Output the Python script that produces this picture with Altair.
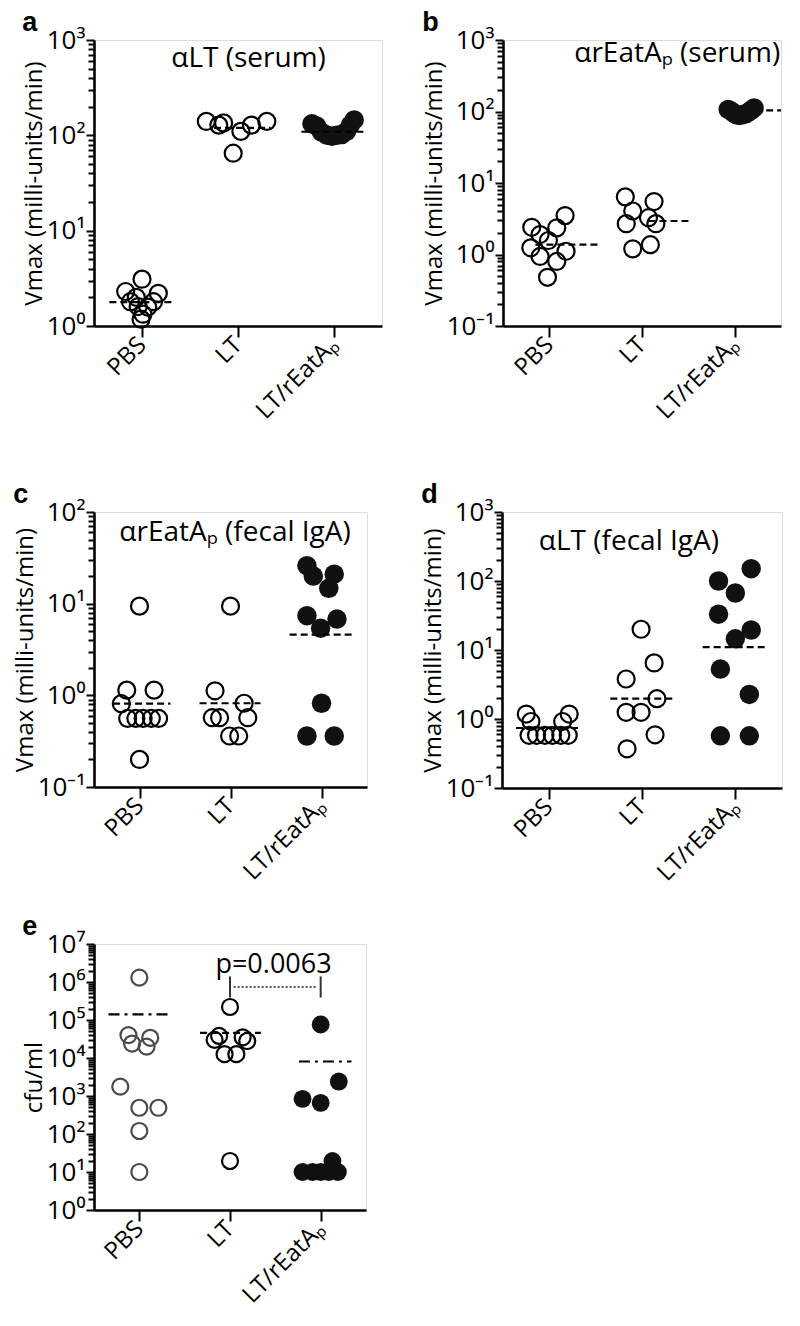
import json
import math
import altair as alt
import pandas as pd

FONT = "Open Sans"
CATS = ["PBS", "LT", "LT/rEatAₚ"]
YLAB = "Vmax (milli-units/min)"

# ---------- panel a : alpha LT (serum) ----------
A_PBS = [3.1, 2.3, 2.2, 1.8, 1.8, 1.6, 1.58, 1.33, 1.18, 2.0]
A_PBS_DX = [0.0, -0.17, 0.17, -0.12, 0.12, -0.04, 0.06, 0.01, -0.01, -0.06]
A_LT = [140, 128, 135, 110, 128, 140, 65]
A_LT_DX = [-0.33, -0.2, -0.15, 0.03, 0.14, 0.3, -0.05]
A_LTR = [132, 125, 108, 100, 98, 100, 102, 110, 128, 145]
A_LTR_DX = [-0.23, -0.18, -0.13, -0.07, -0.02, 0.03, 0.08, 0.13, 0.17, 0.21]
A_LINE = [1.78, 120, 109]
A_LINE_LO = [-0.34, -0.25, -0.34]
A_LINE_HI = [0.34, 0.34, 0.34]

# ---------- panel b : alpha rEatAp (serum) ----------
B_PBS = [3.5, 2.4, 2.36, 1.9, 1.57, 1.24, 1.11, 0.94, 0.80, 0.48]
B_PBS_DX = [0.17, -0.19, 0.08, -0.1, -0.01, -0.2, 0.18, -0.1, 0.08, -0.02]
B_LT = [6.4, 5.5, 4.06, 2.7, 3.27, 2.7, 1.2, 1.37]
B_LT_DX = [-0.18, 0.13, -0.1, -0.17, 0.07, 0.15, -0.1, 0.09]
B_LTR = [107, 102, 95, 90, 88, 90, 93, 98, 105, 112]
B_LTR_DX = [-0.07, -0.04, -0.01, 0.02, 0.05, 0.08, 0.12, 0.15, 0.18, 0.21]
B_LINE = [1.37, 2.94, 104]
B_LINE_LO = [-0.15, 0.07, 0.34]
B_LINE_HI = [0.52, 0.52, 0.5]

# ---------- panel c : alpha rEatAp (fecal IgA) ----------
C_PBS = [9.4, 1.14, 1.14, 0.81, 0.56, 0.56, 0.56, 0.56, 0.56, 0.20]
C_PBS_DX = [0.0, -0.14, 0.16, -0.2, -0.13, -0.04, 0.04, 0.13, 0.21, 0.0]
C_LT = [9.4, 1.12, 0.82, 0.57, 0.57, 0.57, 0.36, 0.36]
C_LT_DX = [0.0, -0.17, 0.15, -0.2, -0.12, 0.19, -0.01, 0.09]
C_LTR = [26, 20, 21, 14.7, 7.4, 6.8, 5.4, 0.82, 0.36, 0.36]
C_LTR_DX = [-0.16, -0.09, 0.14, 0.08, -0.16, 0.17, -0.01, 0.0, -0.16, 0.14]
C_LINE = [0.81, 0.82, 4.6]
C_LINE_LO = [-0.29, -0.34, -0.35]
C_LINE_HI = [0.34, 0.33, 0.34]

# ---------- panel d : alpha LT (fecal IgA) ----------
D_PBS = [1.18, 1.18, 0.92, 0.92, 0.58, 0.58, 0.58, 0.58, 0.58, 0.58]
D_PBS_DX = [-0.24, 0.22, -0.19, 0.15, -0.21, -0.13, -0.04, 0.04, 0.13, 0.21]
D_LT = [20, 6.5, 3.8, 1.97, 1.25, 1.25, 0.59, 0.37]
D_LT_DX = [-0.01, 0.13, -0.17, 0.16, -0.17, -0.01, 0.14, -0.16]
D_LTR = [151, 100, 67, 33, 19.5, 14.5, 5.3, 2.27, 0.57, 0.57]
D_LTR_DX = [0.17, -0.18, 0.0, -0.18, 0.17, 0.0, -0.16, 0.15, -0.16, 0.15]
D_LINE = [0.74, 1.97, 11]
D_LINE_LO = [-0.35, -0.34, -0.35]
D_LINE_HI = [0.34, 0.33, 0.34]

# ---------- panel e : cfu/ml ----------
E_PBS = [1.3e6, 4.0e4, 3.4e4, 2.4e4, 2.0e4, 1.76e3, 490, 490, 120, 10]
E_PBS_DX = [0.0, -0.12, 0.12, -0.08, 0.08, -0.21, 0.0, 0.21, 0.0, 0.0]
E_LT = [2.2e5, 3.8e4, 3.0e4, 3.5e4, 2.8e4, 1.26e4, 1.26e4, 19.5]
E_LT_DX = [0.0, -0.12, -0.17, 0.14, 0.19, -0.06, 0.07, 0.0]
E_LTR = [7.6e4, 2.4e3, 840, 660, 19.5, 10, 10, 10, 10, 10]
E_LTR_DX = [0.0, 0.2, -0.2, 0.0, 0.13, -0.2, -0.09, 0.0, 0.09, 0.19]
E_LINE = [1.4e5, 4.6e4, 8.1e3]
E_LINE_LO = [-0.34, -0.33, -0.24]
E_LINE_HI = [0.35, 0.34, 0.34]
E_P_TEXT = "p=0.0063"
E_BRACKET_GROUPS = [1, 2]
E_BRACKET_LOW = 3.9e5
E_BRACKET_HIGH = 1.4e6
E_BRACKET_MID = 7.4e5
E_P_POS = [1.48, 1.75e6]

SUP = ["10⁻¹", "10⁰", "10¹", "10²", "10³", "10⁴", "10⁵", "10⁶", "10⁷"]
DASH = [7, 4]
DASHDOT = [11, 5, 3, 5]


def y_axis(lo, hi, title):
    vals = []
    for k in range(lo, hi + 1):
        vals.append(10.0 ** k)
    for k in range(lo, hi):
        for m in range(2, 10):
            vals.append(m * 10.0 ** k)
    isdec = "abs(log(datum.value)/LN10 - round(log(datum.value)/LN10)) < 0.001"
    return alt.Axis(
        values=vals,
        labelExpr=f"{isdec} ? {json.dumps(SUP, ensure_ascii=False)}[round(log(datum.value)/LN10)+1] : ''",
        tickSize={"condition": {"test": isdec, "value": 8}, "value": 6},
        tickWidth=2, domainWidth=2.6, labelOverlap=False, labelFontSize=26,
        labelPadding=1, title=title, titleFontSize=24, titleFontWeight="normal",
        titlePadding=0, grid=False, labelFont=FONT, titleFont=FONT,
        labelColor="black", titleColor="black", tickColor="black", domainColor="black",
    )


def panel(letter, title_text, title_pos, groups, dxs, lines, lo_list, hi_list,
          ydom, ytitle, width, height, sizes=(289, 380), pbs_color="black",
          dashes=(DASH, DASH, DASH), title_offset=-10, extra=None):
    rows = []
    for gi, (vals, dd) in enumerate(zip(groups, dxs)):
        for v, d in zip(vals, dd):
            rows.append({"g": gi, "v": v, "dx": d})
    pts = pd.DataFrame(rows)
    lo, hi = ydom
    ylo, yhi = int(round(math.log10(lo))), int(round(math.log10(hi)))
    xs = alt.Scale(domain=[-0.5, 2.5], nice=False, zero=False)
    ys = alt.Scale(type="log", domain=[lo, hi], nice=False)
    xaxis = alt.Axis(values=[0, 1, 2],
                     labelExpr=f"{json.dumps(CATS, ensure_ascii=False)}[datum.value]",
                     labelAngle=315, labelAlign="right", labelBaseline="middle",
                     labelFontSize=24, labelFont=FONT, labelColor="black", labelPadding=4,
                     labelOverlap=False, labelBound=False, labelFlush=False,
                     tickSize=11, tickWidth=2, domainWidth=2.6, domainColor="black",
                     tickColor="black", grid=False, title=None)
    base = alt.Chart(pts).transform_calculate(xp="datum.g + datum.dx")
    open_pts = base.transform_filter("datum.g < 2").mark_point(
        shape="circle", filled=False, size=sizes[0], strokeWidth=2.2, opacity=1
    ).encode(
        x=alt.X("xp:Q", scale=xs, axis=xaxis),
        y=alt.Y("v:Q", scale=ys, axis=y_axis(ylo, yhi, ytitle)),
        stroke=alt.condition("datum.g == 0", alt.value(pbs_color), alt.value("black")),
    )
    fill_pts = base.transform_filter("datum.g == 2").mark_circle(
        size=sizes[1], color="#111111", opacity=1
    ).encode(x=alt.X("xp:Q", scale=xs), y=alt.Y("v:Q", scale=ys))
    layers = [open_pts, fill_pts]
    for gi in range(3):
        ldf = pd.DataFrame({"g": [gi], "v": [lines[gi]], "lo": [lo_list[gi]], "hi": [hi_list[gi]]})
        layers.append(
            alt.Chart(ldf).transform_calculate(x1="datum.g + datum.lo", x2="datum.g + datum.hi")
            .mark_rule(color="black", strokeWidth=2.2, strokeDash=dashes[gi])
            .encode(x=alt.X("x1:Q", scale=xs), x2="x2:Q", y=alt.Y("v:Q", scale=ys))
        )
    if title_text:
        tdf = pd.DataFrame({"x": [title_pos[0]], "y": [title_pos[1]], "t": [title_text]})
        layers.append(
            alt.Chart(tdf).mark_text(font=FONT, fontSize=28, align="center", baseline="alphabetic",
                                     color="black")
            .encode(x=alt.X("x:Q", scale=xs), y=alt.Y("y:Q", scale=ys), text="t:N")
        )
    if extra:
        layers += extra(xs, ys)
    return alt.layer(*layers).properties(
        width=width, height=height,
        title=alt.TitleParams(letter, anchor="start", frame="bounds", fontSize=27,
                              fontWeight="bold", font="Liberation Sans", offset=title_offset,
                              color="black"),
    )


def bracket(xs, ys):
    bdf = pd.DataFrame({"g": E_BRACKET_GROUPS, "lo": [E_BRACKET_LOW] * 2, "hi": [E_BRACKET_HIGH] * 2})
    vert = alt.Chart(bdf).mark_rule(color="#333333", strokeWidth=2).encode(
        x=alt.X("g:Q", scale=xs), y=alt.Y("lo:Q", scale=ys), y2="hi:Q")
    hdf = pd.DataFrame({"a": [E_BRACKET_GROUPS[0]], "b": [E_BRACKET_GROUPS[1]], "y": [E_BRACKET_MID]})
    horiz = alt.Chart(hdf).transform_calculate(a1="datum.a + 0.04", b1="datum.b - 0.04").mark_rule(
        color="#555555", strokeWidth=2, strokeDash=[2, 2]).encode(
        x=alt.X("a1:Q", scale=xs), x2="b1:Q", y=alt.Y("y:Q", scale=ys))
    pdf = pd.DataFrame({"x": [E_P_POS[0]], "y": [E_P_POS[1]], "t": [E_P_TEXT]})
    ptxt = alt.Chart(pdf).mark_text(font=FONT, fontSize=27, align="center", baseline="alphabetic",
                                    color="black").encode(
        x=alt.X("x:Q", scale=xs), y=alt.Y("y:Q", scale=ys), text="t:N")
    return [vert, horiz, ptxt]


pa = panel("a", "αLT (serum)", (1.11, 520), [A_PBS, A_LT, A_LTR], [A_PBS_DX, A_LT_DX, A_LTR_DX],
           A_LINE, A_LINE_LO, A_LINE_HI, (1, 1000), YLAB, 288, 286)
pb = panel("b", "αrEatAₚ (serum)", (1.38, 500), [B_PBS, B_LT, B_LTR], [B_PBS_DX, B_LT_DX, B_LTR_DX],
           B_LINE, B_LINE_LO, B_LINE_HI, (0.1, 1000), YLAB, 278, 286)
pc = panel("c", "αrEatAₚ (fecal IgA)", (1.05, 48), [C_PBS, C_LT, C_LTR], [C_PBS_DX, C_LT_DX, C_LTR_DX],
           C_LINE, C_LINE_LO, C_LINE_HI, (0.1, 100), YLAB, 273, 275)
pd_ = panel("d", "αLT (fecal IgA)", (0.86, 280), [D_PBS, D_LT, D_LTR], [D_PBS_DX, D_LT_DX, D_LTR_DX],
            D_LINE, D_LINE_LO, D_LINE_HI, (0.1, 1000), YLAB, 280, 276)
pe = panel("e", "", (1, 1), [E_PBS, E_LT, E_LTR], [E_PBS_DX, E_LT_DX, E_LTR_DX],
           E_LINE, E_LINE_LO, E_LINE_HI, (1, 1e7), "cfu/ml", 272, 266, sizes=(256, 320),
           pbs_color="#4a4a4a", dashes=(DASHDOT, DASH, DASHDOT), extra=bracket)

row1 = alt.hconcat(pa, pb, spacing=38)
row2 = alt.hconcat(pc, pd_, spacing=52)
top = alt.vconcat(row1, row2, spacing=56)
chart = alt.vconcat(top, pe, spacing=26).properties(
    padding={"left": 4, "top": 0, "right": 0, "bottom": 0}
).configure_view(stroke=None).configure(font=FONT)

chart.save("out.html", embed_options={"renderer": "svg", "actions": False})
